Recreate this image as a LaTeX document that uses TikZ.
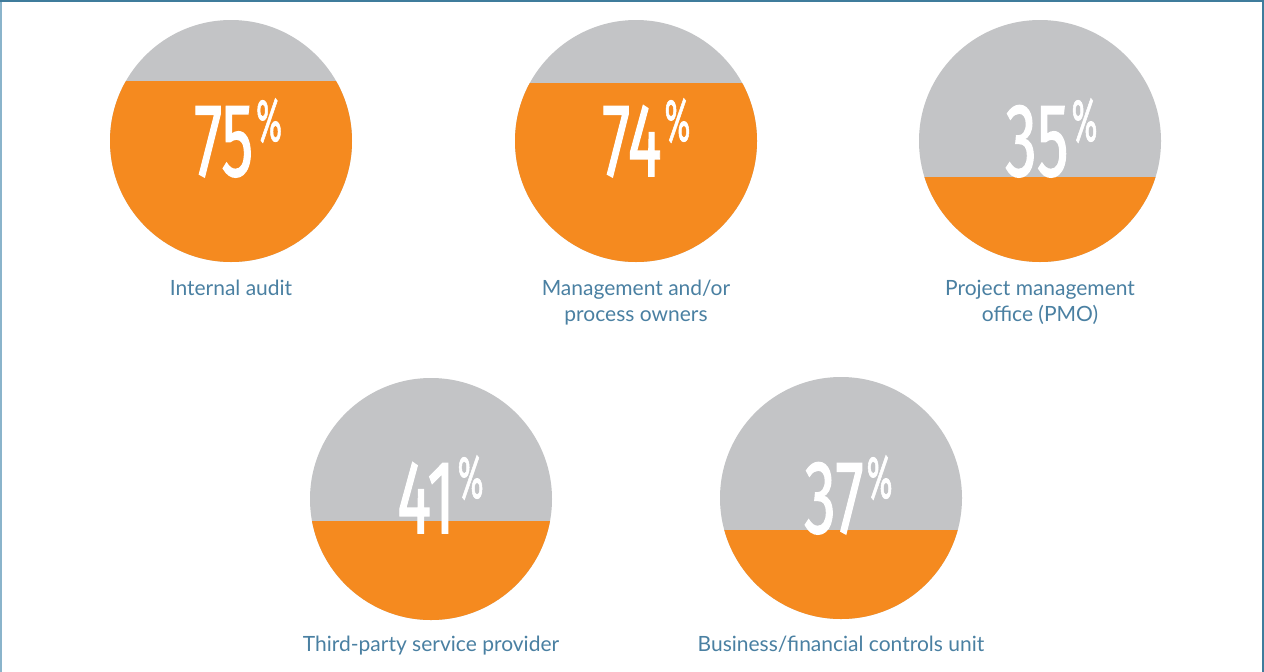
\documentclass[tikz,border=0pt]{standalone}
\usepackage{fontspec}
\setmainfont{Lato}
\newfontfamily\numfont{Fira Sans}[FakeBold=1.5]
\definecolor{orng}{HTML}{F58A1F}
\definecolor{gry}{HTML}{C3C4C6}
\definecolor{lbl}{HTML}{4A80A2}
\definecolor{brd}{HTML}{3F7C9C}
\definecolor{brdl}{HTML}{8AB4CB}
\newcommand{\pctnum}[1]{\scalebox{0.61}[1]{\fontsize{104}{104}\selectfont #1}\hspace{3pt}\raisebox{35pt}{\scalebox{0.52}[1]{\fontsize{60}{60}\selectfont\%}}}
\tikzset{
  pct/.style={anchor=base west, inner sep=0pt, text=white, font=\numfont},
  lab/.style={anchor=base, inner sep=0pt, text=lbl, font=\fontsize{21}{26}\selectfont, align=center},
}
\newcommand{\pie}[4]{% cx, cy, level, name
  \fill[gry] (#1,#2) circle[radius=121];
  \begin{scope}
    \clip (#1,#2) circle[radius=121];
    \fill[orng] (#1-122,#3) rectangle (#1+122,#2+122);
  \end{scope}
  \coordinate (#4) at (#1,#2);
}
\begin{document}
\begin{tikzpicture}[x=1pt,y=-1pt]
\useasboundingbox (0,0) rectangle (1264,672);
\fill[white] (0,0) rectangle (1264,672);
% frame
\draw[brdl, line width=2pt] (1,0) -- (1,672);
\draw[brd, line width=2pt] (1263,0) -- (1263,672);
\draw[brd, line width=2pt] (0,1) -- (1264,1);
% pies
\pie{231}{141}{81}{c1}
\pie{636}{141}{83}{c2}
\pie{1040}{141}{177}{c3}
\pie{431}{499}{521}{c4}
\pie{841}{498}{530}{c5}
% numbers
\node[pct] (n1) at (194,176) {\pctnum{75}};
\node[pct] (n2) at (602,176) {\pctnum{74}};
\node[pct] (n3) at (1005,176) {\pctnum{35}};
\node[pct] (n4) at (397,533) {\pctnum{41}};
\node[pct] (n5) at (804,533) {\pctnum{37}};
% labels
\node[lab] (l1) at (231,295) {Internal audit};
\node[lab] (l2) at (636,321) {Management and/or\\process owners};
\node[lab] (l3) at (1040,321) {Project management\\office (PMO)};
\node[lab] (l4) at (431,651) {Third-party service provider};
\node[lab] (l5) at (841,651) {Business/financial controls unit};
\end{tikzpicture}
\end{document}
